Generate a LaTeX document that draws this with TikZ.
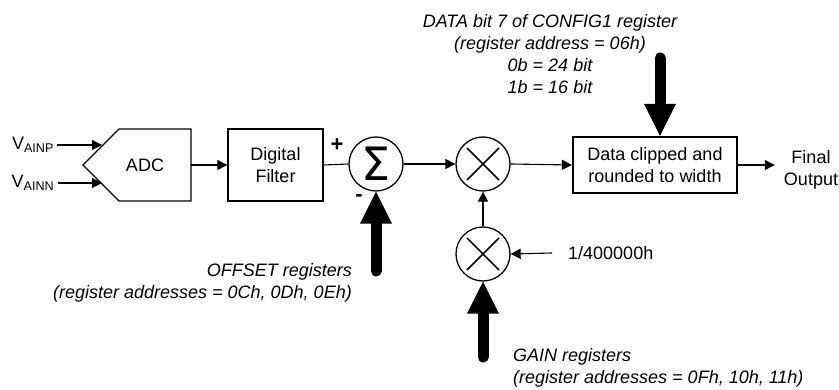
\documentclass[tikz,border=0pt]{standalone}
\usepackage{amsmath}
\usepackage{fontspec}
\setmainfont{Liberation Sans}
\newfontfamily\sigmafont{DejaVu Sans}
\usetikzlibrary{arrows.meta, positioning}
\tikzstyle{block} = [rectangle, 
draw=black, 
line width=1.3pt, 
align=center, 
inner sep=0pt]
\tikzstyle{opnode} = [circle, draw=black, line width=1.3pt, minimum size=54pt, inner sep=0pt]
\tikzstyle{arrow} = [-{Triangle[length=10pt,width=10pt]}, line width=1.1pt]
\tikzstyle{bigarrow} = [-{Triangle[length=32pt,width=32pt,line width=0pt]}, line width=11pt, line cap=round]
\tikzstyle{note} = [font=\fontsize{18}{22}\selectfont\itshape, inner sep=0pt]

\begin{document}
\begin{tikzpicture} [x=1pt, y=-1pt, every node/.style={font=\fontsize{18}{22}\selectfont}]
		
		% Canvas boundary
		\useasboundingbox (0,0) rectangle (839,390);
		
		% Inputs and ADC
		\node (vp) at (33,145) {V$_{\text{AINP}}$};
		\node (vn) at (33,183) {V$_{\text{AINN}}$};
		\draw[line width=1.3pt] (83,165) -- (119,129) -- (191,129) -- (191,201) -- (119,201) -- cycle;
		\node (adc) at (145,165) {ADC};
		\coordinate (adcp) at (102,145);
		\coordinate (adcn) at (102,183);
		\coordinate (adcout) at (191,165);
		
		% Filter, summing node and multipliers
		\node[block, minimum width=95pt, minimum height=72pt] (filter) at (275.5,165) {Digital\\Filter};
		\node[opnode] (sum) at (376,164) {\sigmafont\fontsize{46}{46}\selectfont Σ};
		\node[opnode] (mult1) at (483,164) {};
		\node[opnode] (mult2) at (483,254) {};
		\foreach \m in {mult1, mult2}
		{
			\draw[line width=1.6pt] ([shift={(-16,-16)}]\m.center) -- ([shift={(16,16)}]\m.center);
			\draw[line width=1.6pt] ([shift={(-16,16)}]\m.center) -- ([shift={(16,-16)}]\m.center);
		}
		\node[font=\fontsize{22}{22}\selectfont\bfseries] (plus) at (337,145) {+};
		\node[font=\fontsize{22}{22}\selectfont\bfseries] (minus) at (359,198) {-};
		
		% Clipping block and output
		\node[block, line width=2.2pt, minimum width=164pt, minimum height=56pt] (clip) at (655,165) {Data clipped and\\rounded to width};
		\node[align=center, inner sep=0pt] (final) at (811,170) {Final\\Output};
		
		% Register notes
		\node[note, align=center] (cfgtext) at (550,54) {DATA bit 7 of CONFIG1 register\\(register address = 06h)\\0b = 24 bit\\1b = 16 bit};
		\node[note, align=right, anchor=east] (offtext) at (352,283) {OFFSET registers\\(register addresses = 0Ch, 0Dh, 0Eh)};
		\node[note, align=left, anchor=west] (gaintext) at (513,368) {GAIN registers\\(register addresses = 0Fh, 10h, 11h)};
		\node[anchor=west, inner sep=0pt] (recip) at (568,253) {1/400000h};
		
		% Thin connections
		\draw[arrow] (vp.east) -- (adcp);
		\draw[arrow] (vn.east) -- (adcn);
		\draw[arrow] (adcout) -- (filter.west);
		\draw[line width=1.1pt] (filter.east) -- (sum.west);
		\draw[arrow] (sum.east) -- (mult1.west);
		\draw[arrow] (mult1.east) -- (clip.west);
		\draw[arrow] (clip.east) -- ([xshift=-9pt]final.west |- clip.east);
		\draw[arrow] (mult2.north) -- (mult1.south);
		\draw[arrow] ([xshift=-16pt]recip.west) -- (mult2.east);
		
		% Register arrows
		\coordinate (cfgtail) at (660,58);
		\coordinate (offtail) at (376,271);
		\coordinate (gaintail) at (483,357);
		\draw[bigarrow] (cfgtail) -- (cfgtail |- clip.north);
		\draw[bigarrow] (offtail) -- (sum.south);
		\draw[bigarrow] (gaintail) -- (mult2.south);
		
	\end{tikzpicture}
\end{document}
